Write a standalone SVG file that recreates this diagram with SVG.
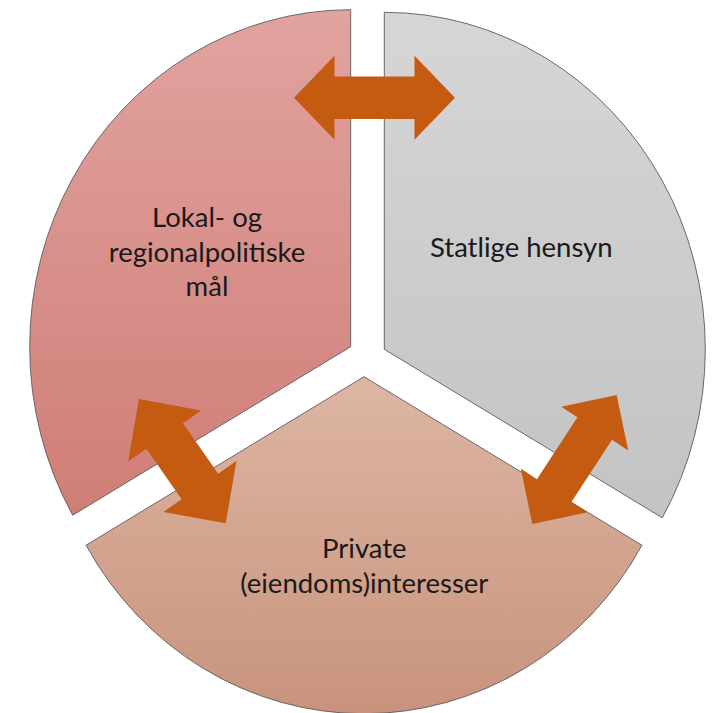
<svg xmlns="http://www.w3.org/2000/svg" width="720" height="713" viewBox="0 0 720 713">
  <defs>
    <linearGradient id="gRed" x1="0" y1="0" x2="0" y2="1">
      <stop offset="0" stop-color="#E1A39F"/>
      <stop offset="1" stop-color="#D07D77"/>
    </linearGradient>
    <linearGradient id="gGray" x1="0" y1="0" x2="0" y2="1">
      <stop offset="0" stop-color="#D6D6D6"/>
      <stop offset="1" stop-color="#C3C3C3"/>
    </linearGradient>
    <linearGradient id="gTan" x1="0" y1="0" x2="0" y2="1">
      <stop offset="0" stop-color="#DDB6A3"/>
      <stop offset="1" stop-color="#C8937D"/>
    </linearGradient>
  </defs>
  <style>
    .seg { stroke: #5a5a5a; stroke-width: 0.9; }
    .lbl { font-family: Lato, "Liberation Sans", sans-serif; font-size: 27.5px; fill: #1a1a1a; text-anchor: middle; }
    .arrow { fill: #C55A11; }
  </style>
  <rect width="720" height="713" fill="#ffffff"/>
  <g id="node-lokal">
    <path class="seg" fill="url(#gRed)" d="M350.7,346.7 L350.7,9.7 A321,337 0 0 0 72.7,515.2 Z"/>
    <text class="lbl" x="207" y="227.3">Lokal- og</text>
    <text class="lbl" x="207" y="261.7">regionalpolitiske</text>
    <text class="lbl" x="207" y="296">mål</text>
  </g>
  <g id="node-statlige">
    <path class="seg" fill="url(#gGray)" d="M384.3,349.3 L384.3,12.3 A321,337 0 0 1 662.3,517.8 Z"/>
    <text class="lbl" x="521.3" y="256.7">Statlige hensyn</text>
  </g>
  <g id="node-private">
    <path class="seg" fill="url(#gTan)" d="M364,376.7 L642,545.2 A321,337 0 0 1 86,545.2 Z"/>
    <text class="lbl" x="364.3" y="558.3">Private</text>
    <text class="lbl" x="364.3" y="593">(eiendoms)interesser</text>
  </g>
  <g id="connectors">
    <path class="arrow" transform="translate(374.5,97.7)" d="M-80.5,0 L-40,-42 L-40,-21.3 L40,-21.3 L40,-42 L80.5,0 L40,42 L40,21.3 L-40,21.3 L-40,42 Z"/>
    <path class="arrow" transform="translate(182.3,461.2) rotate(55.1)" d="M-75.8,0 L-30.8,-44.5 L-30.8,-22.3 L30.8,-22.3 L30.8,-44.5 L75.8,0 L30.8,44.5 L30.8,22.3 L-30.8,22.3 L-30.8,44.5 Z"/>
    <path class="arrow" transform="translate(574.5,459.5) rotate(-56.8)" d="M-77,0 L-37,-40 L-37,-20.7 L37,-20.7 L37,-40 L77,0 L37,40 L37,20.7 L-37,20.7 L-37,40 Z"/>
  </g>
</svg>
